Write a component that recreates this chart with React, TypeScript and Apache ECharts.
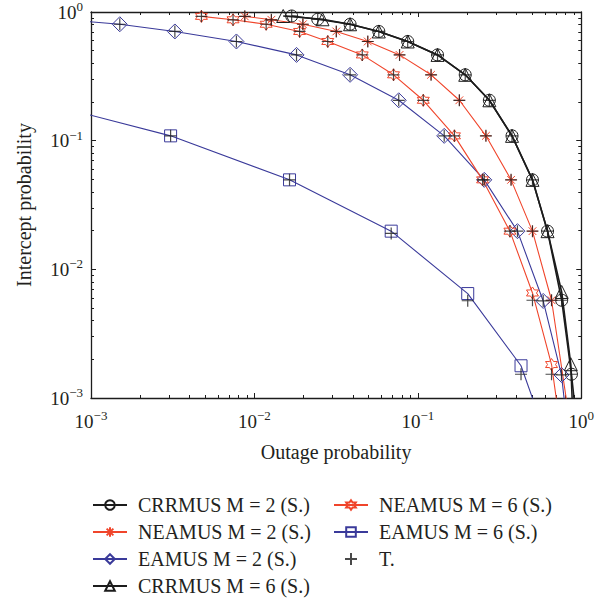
import React, { useEffect, useRef } from 'react';
import * as echarts from 'echarts';

// ---------- data ----------
const crrmus2X = [0.0169, 0.0244, 0.0385, 0.0577, 0.0867, 0.132, 0.195, 0.274, 0.377, 0.503, 0.622, 0.759, 0.871, 0.92];
const crrmus2Y = [0.931, 0.878, 0.803, 0.706, 0.59, 0.464, 0.325, 0.206, 0.109, 0.0496, 0.0198, 0.00575, 0.00153, 0.0008];

const crrmus6X = [0.015, 0.0261, 0.0385, 0.0577, 0.0867, 0.132, 0.195, 0.274, 0.377, 0.503, 0.622, 0.759, 0.863, 0.885];
const crrmus6Y = [0.931, 0.878, 0.803, 0.706, 0.59, 0.464, 0.325, 0.206, 0.109, 0.0496, 0.0198, 0.00667, 0.00183, 0.0008];

const neamus2X = [0.00873, 0.0127, 0.0198, 0.0317, 0.0494, 0.0773, 0.1205, 0.1795, 0.261, 0.372, 0.503, 0.658, 0.83];
const neamus2Y = [0.925, 0.87, 0.803, 0.706, 0.59, 0.464, 0.325, 0.206, 0.109, 0.0496, 0.0198, 0.00575, 0.0008];

const neamus6X = [0.00474, 0.0074, 0.0118, 0.0189, 0.0281, 0.0457, 0.071, 0.108, 0.1675, 0.249, 0.366, 0.503, 0.658, 0.72];
const neamus6Y = [0.925, 0.87, 0.803, 0.706, 0.59, 0.464, 0.325, 0.206, 0.109, 0.0496, 0.0198, 0.00655, 0.00182, 0.0008];

const eamus2X = [0.00065, 0.0015, 0.00326, 0.00776, 0.0181, 0.0385, 0.0764, 0.145, 0.255, 0.407, 0.585, 0.757, 0.8];
const eamus2Y = [0.878, 0.803, 0.706, 0.59, 0.464, 0.325, 0.206, 0.109, 0.0496, 0.0198, 0.00568, 0.00151, 0.0008];

const eamus6X = [0.00044, 0.00307, 0.0164, 0.0687, 0.202, 0.428, 0.61];
const eamus6Y = [0.206, 0.109, 0.0496, 0.0198, 0.00648, 0.00178, 0.0005];

// theoretical points (T.)
const theoryX = [
  0.0169, 0.0244, 0.0385, 0.0577, 0.0867, 0.132, 0.195, 0.274, 0.377, 0.503, 0.622, 0.759, 0.871,
  0.00873, 0.0127, 0.0198, 0.0317, 0.0494, 0.0773, 0.1205, 0.1795, 0.261, 0.372, 0.503, 0.658,
  0.00474, 0.0074, 0.0118, 0.0189, 0.0281, 0.0457, 0.071, 0.108, 0.1675, 0.249, 0.366, 0.503, 0.658,
  0.0015, 0.00326, 0.00776, 0.0181, 0.0385, 0.0764, 0.145, 0.255, 0.407, 0.585, 0.757,
  0.00307, 0.0164, 0.0687, 0.202, 0.428,
];
const theoryY = [
  0.931, 0.878, 0.803, 0.706, 0.59, 0.464, 0.325, 0.206, 0.109, 0.0496, 0.0198, 0.00575, 0.00153,
  0.925, 0.87, 0.803, 0.706, 0.59, 0.464, 0.325, 0.206, 0.109, 0.0496, 0.0198, 0.00575,
  0.925, 0.87, 0.803, 0.706, 0.59, 0.464, 0.325, 0.206, 0.109, 0.0496, 0.0198, 0.00575, 0.00153,
  0.803, 0.706, 0.59, 0.464, 0.325, 0.206, 0.109, 0.0496, 0.0198, 0.00568, 0.00151,
  0.109, 0.0496, 0.019, 0.0057, 0.00153,
];

const seriesNames = [
  'CRRMUS M = 2 (S.)',
  'NEAMUS M = 2 (S.)',
  'EAMUS M = 2 (S.)',
  'CRRMUS M = 6 (S.)',
  'NEAMUS M = 6 (S.)',
  'EAMUS M = 6 (S.)',
  'T.',
];

const majorTicks = [0.001, 0.01, 0.1, 1];
const minorTicks = [
  0.002, 0.003, 0.004, 0.005, 0.006, 0.007, 0.008, 0.009,
  0.02, 0.03, 0.04, 0.05, 0.06, 0.07, 0.08, 0.09,
  0.2, 0.3, 0.4, 0.5, 0.6, 0.7, 0.8, 0.9,
];
const tickExponents: Record<string, string> = { '0.001': '−3', '0.01': '−2', '0.1': '−1', '1': '0' };

// ---------- styles ----------
const SERIF = '"Liberation Serif", "Times New Roman", serif';
const BLACK = '#1c1c1c';
const RED = '#f0452b';
const BLUE = '#3a3a9a';
const TEXT = '#231f20';

const hexPath = (() => {
  const pts: string[] = [];
  for (let k = 0; k < 12; k++) {
    const a = (-90 + k * 30) * Math.PI / 180;
    const r = k % 2 === 0 ? 1 : 0.577;
    pts.push(`${(r * Math.cos(a)).toFixed(3)},${(r * Math.sin(a)).toFixed(3)}`);
  }
  return 'path://M' + pts.join('L') + 'Z';
})();
const starPath = 'path://M0,-1L0,1M-1,0L1,0M-0.7,-0.7L0.7,0.7M-0.7,0.7L0.7,-0.7';
const plusPath = 'path://M0,-1L0,1M-1,0L1,0';

const zip = (xs: number[], ys: number[]) => xs.map((x, i) => [x, ys[i]]);

function lineSeries(name: string, xs: number[], ys: number[], color: string, symbol: string, size: number, width: number) {
  return {
    name,
    type: 'line',
    data: zip(xs, ys),
    symbol,
    symbolSize: size,
    clip: true,
    lineStyle: { color, width },
    itemStyle: { color: 'rgba(0,0,0,0)', borderColor: color, borderWidth: 1 },
    emphasis: { disabled: true },
    z: 2,
  };
}

const tickRich = {
  b: { fontFamily: SERIF, fontSize: 19, color: TEXT },
  s: { fontFamily: SERIF, fontSize: 13, color: TEXT, padding: [0, 0, 11, 0] },
};

function axisX(position: string, major: boolean, label: boolean) {
  return {
    type: 'log',
    logBase: 10,
    min: 0.001,
    max: 1,
    position,
    name: label ? 'Outage probability' : '',
    nameLocation: 'middle',
    nameGap: 44,
    nameTextStyle: { fontFamily: SERIF, fontSize: 20, color: TEXT },
    axisLine: { show: major, onZero: false, lineStyle: { color: BLACK, width: 1.3 } },
    axisTick: { show: true, inside: true, length: major ? 5 : 3, customValues: major ? majorTicks : minorTicks, lineStyle: { color: BLACK, width: 1 } },
    axisLabel: label
      ? {
          show: true,
          margin: 11,
          customValues: majorTicks,
          formatter: (v: number) => `{b|10}{s|${tickExponents[String(v)] ?? ''}}`,
          rich: tickRich,
        }
      : { show: false },
    splitLine: { show: false },
    minorTick: { show: false },
  };
}

function axisY(position: string, major: boolean, label: boolean) {
  return {
    type: 'log',
    logBase: 10,
    min: 0.001,
    max: 1,
    position,
    name: label ? 'Intercept probability' : '',
    nameLocation: 'middle',
    nameGap: 57,
    nameTextStyle: { fontFamily: SERIF, fontSize: 20, color: TEXT },
    axisLine: { show: major, onZero: false, lineStyle: { color: BLACK, width: 1.3 } },
    axisTick: { show: true, inside: true, length: major ? 5 : 3, customValues: major ? majorTicks : minorTicks, lineStyle: { color: BLACK, width: 1 } },
    axisLabel: label
      ? {
          show: true,
          margin: 8,
          customValues: majorTicks,
          formatter: (v: number) => `{b|10}{s|${tickExponents[String(v)] ?? ''}}`,
          rich: tickRich,
        }
      : { show: false },
    splitLine: { show: false },
    minorTick: { show: false },
  };
}

const legendText = { fontFamily: SERIF, fontSize: 20, lineHeight: 20, color: TEXT, padding: [0, 0, 0, 6] };

export default function App() {
  const ref = useRef<HTMLDivElement>(null);
  useEffect(() => {
    if (!ref.current) return;
    const chart = echarts.init(ref.current, undefined, { renderer: 'svg' });
    chart.setOption({
      animation: false,
      backgroundColor: '#ffffff',
      grid: { left: 91, right: 15, top: 11, bottom: 215, containLabel: false },
      xAxis: [axisX('bottom', true, true), axisX('bottom', false, false), axisX('top', true, false), axisX('top', false, false)],
      yAxis: [axisY('left', true, true), axisY('left', false, false), axisY('right', true, false), axisY('right', false, false)],
      legend: [
        {
          data: seriesNames.slice(0, 4),
          orient: 'vertical',
          left: 92,
          top: 495,
          padding: 0,
          itemWidth: 34,
          itemHeight: 12,
          itemGap: 7,
          selectedMode: false,
          textStyle: legendText,
        },
        {
          data: seriesNames.slice(4),
          orient: 'vertical',
          left: 333,
          top: 495,
          padding: 0,
          itemWidth: 34,
          itemHeight: 12,
          itemGap: 7,
          selectedMode: false,
          textStyle: legendText,
        },
      ],
      series: [
        lineSeries(seriesNames[0], crrmus2X, crrmus2Y, BLACK, 'circle', 12, 1.6),
        lineSeries(seriesNames[1], neamus2X, neamus2Y, RED, starPath, 11, 1.1),
        lineSeries(seriesNames[2], eamus2X, eamus2Y, BLUE, 'diamond', 15, 1.1),
        lineSeries(seriesNames[3], crrmus6X, crrmus6Y, BLACK, 'triangle', 13, 1.6),
        lineSeries(seriesNames[4], neamus6X, neamus6Y, RED, hexPath, 12, 1.1),
        lineSeries(seriesNames[5], eamus6X, eamus6Y, BLUE, 'rect', 12, 1.1),
        {
          name: seriesNames[6],
          type: 'scatter',
          data: zip(theoryX, theoryY),
          symbol: plusPath,
          symbolSize: 12,
          itemStyle: { color: 'rgba(0,0,0,0)', borderColor: BLACK, borderWidth: 1.2 },
          emphasis: { disabled: true },
          z: 5,
        },
      ],
    });
    return () => chart.dispose();
  }, []);
  return <div ref={ref} style={{ position: 'fixed', left: 0, top: 0, width: 597, height: 613, background: '#fff' }} />;
}
